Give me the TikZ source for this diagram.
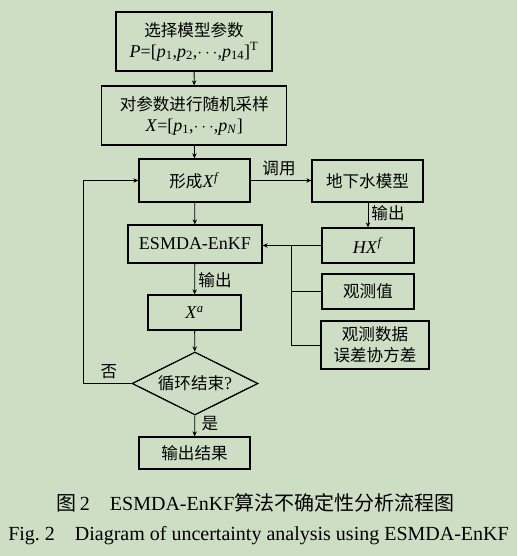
\documentclass[tikz,border=0pt]{standalone}
\usepackage{fontspec}
\setmainfont{Liberation Serif}
\newfontfamily\cjk[Scale=0.92]{Noto Sans CJK SC}
\newfontfamily\cjkcap{Noto Sans CJK SC}
\usetikzlibrary{arrows.meta,shapes.geometric}
\definecolor{bggreen}{RGB}{206,222,197}
\tikzset{
  box/.style={draw, line width=1.3pt, inner sep=0pt, align=center, font=\fontsize{18}{21}\selectfont},
  decision/.style={draw, diamond, line width=1.3pt, inner sep=0pt, aspect=2, font=\fontsize{18}{21}\selectfont},
  lbl/.style={inner sep=1pt, font=\fontsize{18}{21}\selectfont},
  link/.style={line width=0.8pt},
  arr/.style={line width=0.8pt, -{Stealth[length=5pt,width=4.5pt]}}
}
\begin{document}
\begin{tikzpicture}[x=1pt,y=-1pt]
    \fill[bggreen] (0,0) rectangle (517,556);
    \useasboundingbox (0,0) rectangle (517,556);
    % main column
    \node[box, minimum width=156pt, minimum height=59pt] (param) at (194,41.5) {{\cjk 选择模型参数}\\\textit{P}=[\textit{p}\textsubscript{1},\textit{p}\textsubscript{2},$\cdots$,\textit{p}\textsubscript{14}]\textsuperscript{T}};
    \node[box, minimum width=185pt, minimum height=59pt] (sample) at (194.3,115.5) {{\cjk 对参数进行随机采样}\\\textit{X}=[\textit{p}\textsubscript{1},$\cdots$,\textit{p}\textsubscript{\textit{N}}]};
    \node[box, minimum width=111pt, minimum height=43pt] (form) at (194.5,180.5) {{\cjk 形成}\textit{X}\textsuperscript{\textit{f}}};
    \node[box, minimum width=134pt, minimum height=38pt] (esmda) at (195,244) {ESMDA-EnKF};
    \node[box, minimum width=93pt, minimum height=35pt] (xa) at (194.5,312.5) {\textit{X}\textsuperscript{\textit{a}}};
    \node[decision, minimum width=126pt, minimum height=63pt] (decide) at (195,383.5) {{\cjk 循环结束}?};
    \node[box, minimum width=111pt, minimum height=32pt] (result) at (194.5,453) {\cjk 输出结果};
    % right column
    \node[box, minimum width=111pt, minimum height=42pt] (model) at (367.5,181) {\cjk 地下水模型};
    \node[box, minimum width=92pt, minimum height=35pt] (hx) at (368,245.5) {\textit{HX}\textsuperscript{\textit{f}}};
    \node[box, minimum width=92pt, minimum height=35pt] (obs) at (368,291.5) {\cjk 观测值};
    \node[box, minimum width=108pt, minimum height=48pt] (cov) at (375,345) {\cjk 观测数据\\\cjk 误差协方差};
    % connectors
    \draw[arr] (param) -- (sample);
    \draw[arr] (sample) -- (form);
    \draw[arr] (form) -- (esmda);
    \draw[arr] (esmda) -- (xa);
    \draw[arr] (xa) -- (decide);
    \draw[arr] (decide) -- (result);
    \draw[arr] (form.east) -- (form.east -| model.west);
    \draw[arr] (model.south -| hx.north) -- (hx.north);
    \draw[arr] (hx.west) -- (hx.west -| esmda.east);
    \coordinate (bus) at (291,245.5);
    \draw[link] (bus) |- (obs.west);
    \draw[link] (bus) |- (cov.west);
    \coordinate (loop) at (83,383.5);
    \draw[arr] (decide.west) -- (loop) |- (form.west);
    % labels
    \node[lbl] (callnote) at (279,168) {\cjk 调用};
    \node[lbl] (outnote) at (388,213) {\cjk 输出};
    \node[lbl] (outnote2) at (215,280) {\cjk 输出};
    \node[lbl] (nonote) at (109,372) {\cjk 否};
    \node[lbl] (yesnote) at (210,424) {\cjk 是};
    % caption
    \node[font=\fontsize{20}{24}\selectfont, inner sep=0pt] (captioncn) at (255.5,503) {{\cjkcap 图}\,2\hspace{1em}ESMDA-EnKF{\cjkcap 算法不确定性分析流程图}};
    \node[font=\fontsize{20}{24}\selectfont, inner sep=0pt] (captionen) at (258.5,536) {Fig.\ 2\hspace{1em}Diagram of uncertainty analysis using ESMDA-EnKF};
\end{tikzpicture}
\end{document}
